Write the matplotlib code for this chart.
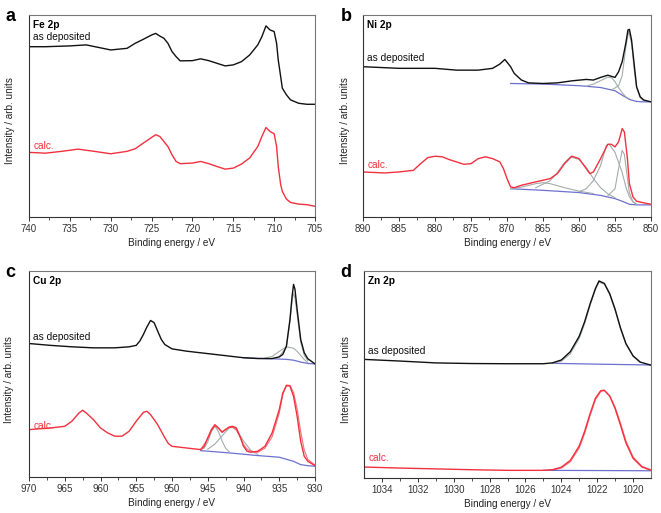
import numpy as np
import matplotlib
matplotlib.use("Agg")
import matplotlib.pyplot as plt

# ---- Fe 2p (panel a) ----
fe_e_dep = [740, 738, 735, 733, 730, 728, 727, 726, 725, 724.5, 724, 723.5, 723, 722.5, 722, 721.5,
            720, 719, 718, 717, 716, 715, 714, 713, 712, 711.5, 711, 710.5, 710, 709.7, 709.5, 709.2,
            709, 708.5, 708, 707, 706, 705]
fe_i_dep = [84.3, 84.3, 84.7, 85.2, 82.7, 83.5, 86.0, 88.0, 90.1, 90.9, 89.6, 88.5, 86.0, 81.9, 79.4, 77.3,
            77.4, 78.3, 77.4, 76.1, 74.8, 75.3, 76.9, 80.2, 85.2, 89.3, 94.6, 92.6, 91.8, 86.0, 77.8, 69.5,
            63.8, 60.5, 58.0, 56.3, 55.8, 55.8]
fe_e_calc = [740, 738, 736, 734, 732, 730, 728, 727, 726, 725, 724.5, 724, 723, 722.5, 722, 721.5,
             720, 719, 718, 717, 716, 715, 714, 713, 712, 711.5, 711, 710.5, 710, 709.7, 709.5, 709.2,
             709, 708.5, 708, 707, 706, 705]
fe_i_calc = [32.0, 31.6, 32.5, 33.6, 32.5, 31.3, 32.5, 33.8, 36.6, 39.4, 40.7, 39.9, 34.9, 30.8, 27.5, 26.4,
             26.7, 27.5, 26.4, 25.0, 23.7, 24.2, 26.2, 29.2, 34.9, 39.9, 44.3, 42.3, 41.2, 34.9, 25.0, 16.0,
             12.7, 8.9, 7.2, 6.4, 6.1, 5.3]

# ---- Ni 2p (panel b) ----
ni_e_dep = [890, 885, 880, 877, 874, 872, 871, 870.3, 869.5, 869, 868, 867, 865, 863, 861, 859, 858,
            857, 856, 855, 854.5, 854, 853.5, 853.2, 853, 852.7, 852.3, 852, 851.5, 851, 850]
ni_i_dep = [74.4, 73.6, 73.6, 72.7, 72.7, 73.6, 75.7, 78.0, 74.4, 71.1, 67.8, 66.4, 66.1, 66.4, 67.4, 68.1, 67.8,
            69.1, 70.2, 69.1, 71.9, 76.9, 86.0, 92.6, 92.9, 87.6, 74.4, 64.5, 59.5, 57.9, 57.0]
ni_e_bg_dep = [869.5, 865, 860, 857, 855, 854, 853, 852, 851, 850]
ni_i_bg_dep = [66.1, 65.8, 65.0, 64.1, 62.5, 60.3, 58.2, 57.2, 57.0, 57.0]
ni_comp_dep = [
    ([855.5, 854.5, 854, 853.5, 853.1, 852.7, 852.3, 852, 851.5, 851],
     [62.8, 65.0, 70.0, 84.0, 92.0, 86.0, 72.0, 64.0, 59.0, 57.5]),
    ([859, 858, 857, 856, 855.5, 855, 854.5, 854, 853.5, 853],
     [64.8, 65.8, 67.5, 69.2, 69.0, 67.0, 64.0, 61.5, 59.5, 58.5]),
]
ni_e_calc = [890, 887, 885, 883, 882, 881, 880, 879, 878, 876, 875, 874, 873, 872, 871, 870.5, 870, 869.5,
             869, 868, 866, 864, 863, 862, 861, 860, 859, 858.5, 858, 857, 856, 855.5, 855, 854.5, 854,
             853.7, 853.3, 853, 852.5, 852, 851, 850]
ni_i_calc = [22.3, 21.8, 22.3, 23.1, 26.4, 29.4, 30.1, 29.8, 28.4, 26.1, 26.4, 28.9, 29.8, 28.9, 27.3, 24.0, 19.0, 14.9,
             14.5, 15.7, 17.4, 19.0, 21.5, 26.4, 30.1, 28.9, 24.0, 21.5, 22.3, 28.9, 36.0, 36.0, 34.7, 37.2, 43.8,
             42.1, 29.8, 16.5, 9.9, 7.8, 7.0, 6.3]
ni_e_bg_calc = [869.5, 865, 860, 857, 855, 854, 853, 852, 850]
ni_i_bg_calc = [14.0, 13.2, 12.1, 10.7, 9.1, 7.8, 6.3, 6.0, 6.0]
ni_comp_calc = [
    ([869.5, 868, 866, 865, 864, 862, 860, 858],
     [14.0, 14.8, 16.5, 17.0, 16.5, 14.5, 12.8, 11.6]),
    ([866, 864, 863, 862, 861.2, 860, 859, 858, 857, 856, 855],
     [14.5, 18.0, 22.0, 27.0, 29.8, 28.5, 24.5, 19.0, 14.5, 11.5, 9.5]),
    ([860, 859, 858, 857, 856.2, 855.8, 855, 854, 853.5, 853, 852.5, 852],
     [12.5, 14.0, 18.0, 25.5, 35.5, 36.0, 32.0, 22.0, 15.0, 10.0, 7.5, 6.5]),
    ([856, 855, 854.5, 854, 853.7, 853.3, 853, 852.5, 852],
     [10.5, 14.0, 24.0, 33.0, 31.0, 20.0, 12.0, 7.5, 6.2]),
]

# ---- Cu 2p (panel c) ----
cu_e_dep = [970, 967, 964, 961, 958, 956, 955, 954.5, 954, 953.5, 953, 952.5, 952, 951.5, 951, 950, 948,
            946, 944, 942, 940, 938, 936, 935, 934.5, 934, 933.5, 933.2, 933, 932.8, 932.5, 932, 931.5,
            931, 930]
cu_i_dep = [64.8, 63.9, 63.2, 62.7, 62.7, 63.2, 63.9, 66.0, 69.2, 72.9, 76.0, 74.9, 70.8, 66.8, 64.3, 62.2, 61.1,
            60.3, 59.5, 58.7, 57.9, 57.5, 57.5, 58.3, 59.5, 63.5, 76.5, 87.8, 93.5, 91.1, 81.4, 66.8, 60.3,
            57.4, 54.9]
cu_e_bg_dep = [940, 938, 936, 934, 933, 932, 931, 930]
cu_i_bg_dep = [57.9, 57.6, 57.4, 57.1, 56.7, 55.8, 55.1, 54.9]
cu_comp_dep = [
    ([935, 934, 933.5, 933.2, 933, 932.8, 932.5, 932, 931.5, 931],
     [58.5, 63.0, 75.5, 86.0, 89.0, 87.0, 79.0, 65.5, 59.0, 56.5]),
    ([937, 936, 935, 934, 933, 932.5, 932, 931.5, 931],
     [57.8, 58.5, 61.0, 63.2, 62.5, 61.0, 59.0, 57.0, 55.5]),
]
cu_e_calc = [970, 967, 965, 964, 963, 962.5, 962, 961, 960, 959, 958, 957, 956, 955, 954, 953.5, 953, 952,
             951, 950.5, 950, 948, 946, 945.5, 945, 944.5, 944, 943.5, 943, 942.5, 942, 941.5, 941, 940.5,
             940, 939.5, 939, 938, 937, 936, 935, 934.5, 934, 933.5, 933, 932.5, 932, 931.5, 931, 930]
cu_i_calc = [23.0, 23.8, 24.6, 27.1, 31.1, 32.4, 31.1, 27.9, 23.8, 21.4, 19.8, 19.8, 22.2, 27.1, 31.4, 31.9, 30.3, 25.4,
             19.0, 16.2, 14.9, 14.1, 13.3, 14.9, 19.0, 23.0, 25.4, 23.8, 21.7, 23.0, 24.3, 24.6, 23.8, 19.8,
             14.9, 12.5, 12.0, 12.5, 14.9, 21.4, 32.7, 40.8, 44.4, 44.1, 39.2, 29.5, 17.3, 10.0, 7.6, 5.5]
cu_e_fit_calc = [946, 945, 944.5, 944, 943.5, 943, 942.5, 942, 941.5, 941, 940.5, 940, 939.5, 939, 938, 937,
                 936, 935, 934.5, 934, 933.5, 933, 932.5, 932, 931.5, 931, 930]
cu_i_fit_calc = [13.3, 18.5, 22.5, 25.0, 23.5, 22.0, 23.2, 24.0, 24.0, 22.8, 19.5, 15.8, 13.5, 12.5, 12.0, 14.0,
                 19.5, 31.0, 40.0, 44.6, 44.5, 41.0, 33.0, 22.0, 13.0, 8.5, 5.8]
cu_e_bg_calc = [946, 942, 938, 935, 933, 932, 931, 930]
cu_i_bg_calc = [12.8, 11.7, 10.4, 9.6, 7.6, 6.0, 5.5, 5.2]
cu_comp_calc = [
    ([946, 945.5, 945, 944.5, 944, 943.5, 943, 942.5, 942],
     [13.3, 14.0, 17.0, 22.0, 24.6, 22.0, 17.5, 14.0, 12.2]),
    ([945, 944, 943, 942, 941.5, 941, 940, 939, 938],
     [13.5, 16.0, 20.0, 23.8, 24.5, 23.0, 17.5, 13.0, 11.0]),
]

# ---- Zn 2p (panel d) ----
zn_e_dep = [1035, 1033, 1031, 1029, 1027, 1025, 1024.5, 1024, 1023.5, 1023, 1022.7, 1022.4, 1022.1, 1021.9,
            1021.6, 1021.3, 1021, 1020.7, 1020.4, 1020, 1019.6, 1019]
zn_i_dep = [57.3, 56.5, 55.6, 55.3, 55.2, 55.2, 55.6, 57.0, 61.0, 68.5, 75.5, 84.0, 91.5, 95.2,
            94.0, 89.0, 81.5, 72.5, 65.0, 59.0, 56.0, 54.5]
zn_e_bg_dep = [1024.5, 1022, 1019]
zn_i_bg_dep = [55.4, 55.0, 54.6]
zn_comp_dep = [
    ([1024.5, 1024, 1023.5, 1023, 1022.7, 1022.4, 1022.1, 1021.9, 1021.6, 1021.3, 1021, 1020.7, 1020.4,
      1020, 1019.6],
     [55.4, 56.4, 60.0, 67.5, 74.5, 83.2, 91.0, 94.6, 93.6, 88.6, 81.0, 72.0, 64.6, 58.8, 55.8]),
]
zn_e_calc = [1035, 1033, 1031, 1029, 1027, 1025, 1024.5, 1024, 1023.5, 1023, 1022.7, 1022.4, 1022.1, 1021.8,
             1021.6, 1021.3, 1021, 1020.7, 1020.4, 1020, 1019.5, 1019]
zn_i_calc = [5.3, 4.8, 4.4, 4.0, 3.7, 3.7, 4.0, 5.2, 8.5, 15.5, 22.5, 31.0, 38.5, 42.2,
             42.4, 39.5, 33.5, 25.5, 17.0, 9.5, 5.3, 3.7]
zn_e_fit_calc = [1024.5, 1024, 1023.5, 1023, 1022.7, 1022.4, 1022.1, 1021.8, 1021.6, 1021.3, 1021, 1020.7,
                 1020.4, 1020, 1019.5, 1019]
zn_i_fit_calc = [3.9, 4.8, 7.8, 14.5, 21.5, 30.0, 37.8, 41.8, 42.2, 39.8, 34.2, 26.5, 18.0, 10.2, 5.6, 4.0]
zn_e_bg_calc = [1025, 1022, 1019]
zn_i_bg_calc = [3.7, 3.6, 3.5]

BLACK = "#111111"
RED = "#f2313f"
BLUE = "#6c70cf"
GRAY = "#a3acac"

plt.rcParams["font.family"] = ["Liberation Sans", "DejaVu Sans"]

fig = plt.figure(figsize=(6.61, 5.13), dpi=100)

panels = [
    dict(rect=[29 / 661, 1 - 217 / 513, 286 / 661, 202 / 513], xlim=(740, 705), ticks=np.arange(740, 704, -5),
         letter="a", lpos=(0.008, 0.985), title="Fe 2p", ydep=0.89, ycalc=0.35, ylab=-0.049),
    dict(rect=[363 / 661, 1 - 217 / 513, 288 / 661, 202 / 513], xlim=(890, 850), ticks=np.arange(890, 849, -5),
         letter="b", lpos=(0.515, 0.985), title="Ni 2p", ydep=0.787, ycalc=0.257, ylab=-0.045),
    dict(rect=[29 / 661, 1 - 477 / 513, 286 / 661, 206 / 513], xlim=(970, 930), ticks=np.arange(970, 929, -5),
         letter="c", lpos=(0.008, 0.486), title="Cu 2p", ydep=0.68, ycalc=0.248, ylab=-0.052),
    dict(rect=[364 / 661, 1 - 478 / 513, 287 / 661, 207 / 513], xlim=(1035, 1019), ticks=np.arange(1034, 1019, -2),
         letter="d", lpos=(0.515, 0.486), title="Zn 2p", ydep=0.614, ycalc=0.097, ylab=-0.045),
]

data = [
    dict(dep=(fe_e_dep, fe_i_dep), calc=(fe_e_calc, fe_i_calc)),
    dict(dep=(ni_e_dep, ni_i_dep), calc=(ni_e_calc, ni_i_calc),
         bg=[(ni_e_bg_dep, ni_i_bg_dep), (ni_e_bg_calc, ni_i_bg_calc)],
         comps=ni_comp_dep + ni_comp_calc),
    dict(dep=(cu_e_dep, cu_i_dep), calc=(cu_e_calc, cu_i_calc),
         bg=[(cu_e_bg_dep, cu_i_bg_dep), (cu_e_bg_calc, cu_i_bg_calc)],
         comps=cu_comp_dep + cu_comp_calc, fit=(cu_e_fit_calc, cu_i_fit_calc)),
    dict(dep=(zn_e_dep, zn_i_dep), calc=(zn_e_calc, zn_i_calc),
         bg=[(zn_e_bg_dep, zn_i_bg_dep), (zn_e_bg_calc, zn_i_bg_calc)],
         comps=zn_comp_dep, fit=(zn_e_fit_calc, zn_i_fit_calc)),
]

for p, d in zip(panels, data):
    ax = fig.add_axes(p["rect"])
    for e, i in d.get("bg", []):
        ax.plot(e, i, color=BLUE, lw=0.9)
    for e, i in d.get("comps", []):
        ax.plot(e, i, color=GRAY, lw=0.8)
    if "fit" in d:
        ax.plot(*d["fit"], color=RED, lw=0.8, alpha=0.7)
    ax.plot(*d["dep"], color=BLACK, lw=1.0)
    ax.plot(*d["calc"], color=RED, lw=1.0)

    ax.set_xlim(*p["xlim"])
    ax.set_ylim(0, 100)
    ax.set_xticks(p["ticks"])
    step = p["ticks"][0] - p["ticks"][1]
    ax.set_xticks(np.arange(p["ticks"][0] - step / 2, p["xlim"][1], -step), minor=True)
    ax.set_yticks([])
    ax.tick_params(axis="x", which="major", direction="out", length=3, width=0.7, labelsize=7,
                   pad=2, colors="#333333")
    ax.tick_params(axis="x", which="minor", direction="out", length=1.8, width=0.6, colors="#333333")
    for s in ax.spines.values():
        s.set_color("#777777")
        s.set_linewidth(0.8)
    ax.spines["bottom"].set_color("#333333")
    ax.spines["left"].set_color("#333333")

    ax.set_xlabel("Binding energy / eV", fontsize=7.2, labelpad=3, color="#222222")
    ax.set_ylabel("Intensity / arb. units", fontsize=7.2, color="#222222")
    ax.yaxis.set_label_coords(p["ylab"], 0.475)

    ax.text(0.015, 0.95, p["title"], transform=ax.transAxes, fontsize=7.3, fontweight="bold",
            va="center", ha="left")
    ax.text(0.015, p["ydep"], "as deposited", transform=ax.transAxes, fontsize=7.3,
            va="center", ha="left", color="#111111")
    ax.text(0.015, p["ycalc"], "calc.", transform=ax.transAxes, fontsize=7.3,
            va="center", ha="left", color=RED)

    fig.text(p["lpos"][0], p["lpos"][1], p["letter"], fontsize=13, fontweight="bold",
             va="top", ha="left")

fig.savefig("out.png", dpi=100)
